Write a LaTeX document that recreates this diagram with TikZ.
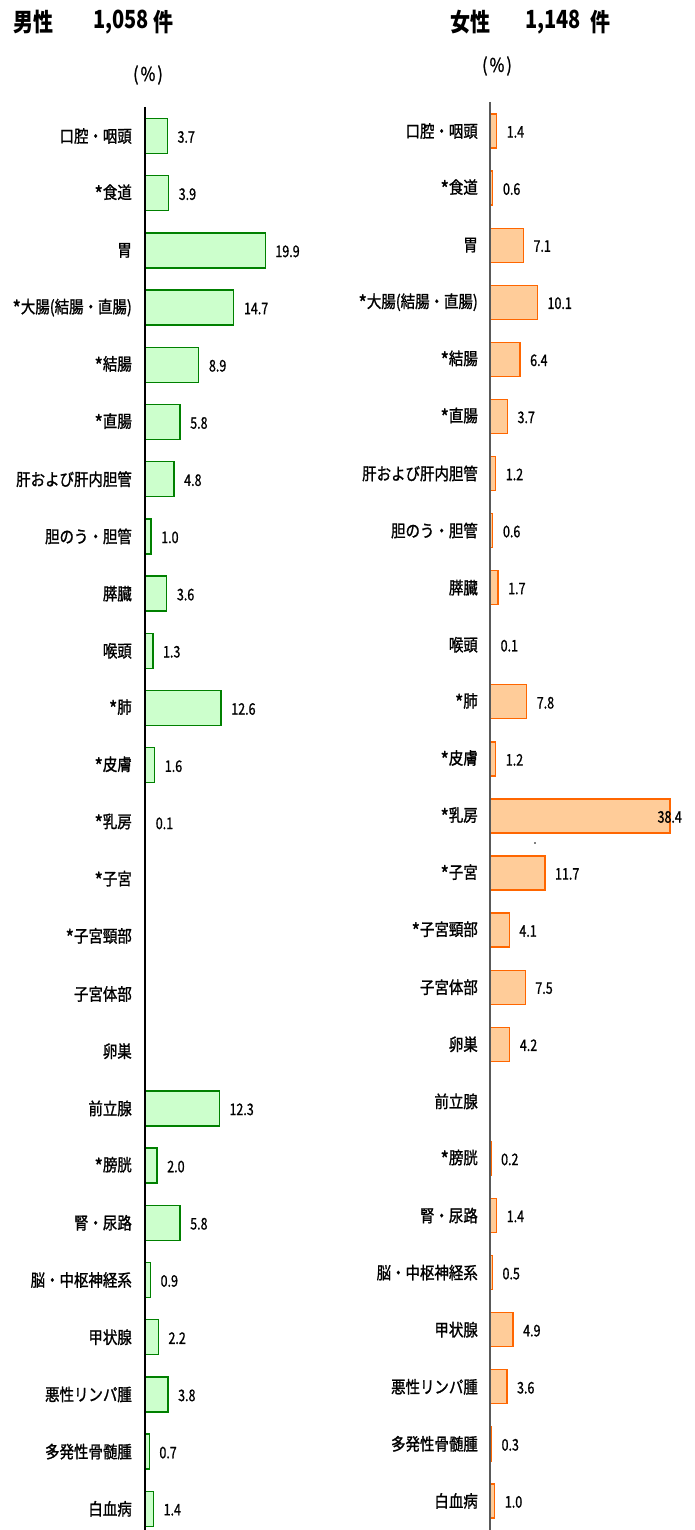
\documentclass[tikz,border=0pt]{standalone}
\usepackage{fontspec}
\newfontfamily\labf{Noto Sans CJK JP}[FakeStretch=0.85,FakeBold=1.2]
\newfontfamily\numf{Noto Sans CJK JP}[FakeStretch=0.78,FakeBold=1.0]
\newfontfamily\ttlf{Noto Sans CJK JP}[FakeStretch=0.8]
\newcommand\mystar{\raisebox{-0.35ex}{\fontsize{21}{21}\selectfont *}}
\definecolor{mgreen}{HTML}{008000}
\definecolor{mfill}{HTML}{CCFFCC}
\definecolor{forange}{HTML}{FF6600}
\definecolor{ffill}{HTML}{FFCC99}
\definecolor{faxis}{HTML}{595959}
\begin{document}
\begin{tikzpicture}[x=1pt,y=-1pt,
  lab/.style={anchor=east,inner sep=0pt,font=\labf\fontsize{17}{17}\selectfont},
  val/.style={anchor=west,inner sep=0pt,font=\numf\fontsize{16}{16}\selectfont},
  ttl/.style={anchor=west,inner sep=0pt,font=\ttlf\bfseries\fontsize{25}{25}\selectfont},
  pct/.style={inner sep=0pt,font=\labf\fontsize{19}{19}\selectfont},
  mbar/.style={draw=mgreen,fill=mfill,line width=1.3pt},
  fbar/.style={draw=forange,fill=ffill,line width=1.3pt},
  maxis/.style={draw=black,line width=1.2pt},
  faxis/.style={draw=faxis,line width=1.5pt}]
\useasboundingbox (0,0) rectangle (695,1530);
% titles
\node[ttl] (mt1) at (13,22) {男性};
\node[ttl] (mt2) at (93,22) {1,058};
\node[ttl] (mt3) at (153,22) {件};
\node[ttl] (ft1) at (450,22) {女性};
\node[ttl] (ft2) at (525,22) {1,148};
\node[ttl] (ft3) at (590,22) {件};
\node[pct] (mp) at (148,75) {(\kern2pt\%\kern2pt)};
\node[pct] (fp) at (497,66) {(\kern2pt\%\kern2pt)};
% axes
\coordinate (mtop) at (145,107);
\coordinate (mbot) at (145,1530);
\coordinate (ftop) at (490,102);
\coordinate (fbot) at (490,1530);
% labels
\foreach \t [count=\i from 0] in {口腔・咽頭,\mystar 食道,胃,\mystar 大腸(結腸・直腸),\mystar 結腸,\mystar 直腸,肝および肝内胆管,胆のう・胆管,膵臓,喉頭,\mystar 肺,\mystar 皮膚,\mystar 乳房,\mystar 子宮,\mystar 子宮頸部,子宮体部,卵巣,前立腺,\mystar 膀胱,腎・尿路,脳・中枢神経系,甲状腺,悪性リンパ腫,多発性骨髄腫,白血病}{
  \node[lab] (ml\i) at (132,136+57.2*\i) {\t};
  \node[lab] (fl\i) at (478,131+57.08*\i) {\t};
}
% male bars
\foreach \i/\v in {0/3.7,1/3.9,2/19.9,3/14.7,4/8.9,5/5.8,6/4.8,7/1.0,8/3.6,9/1.3,10/12.6,11/1.6,12/0.1,17/12.3,18/2.0,19/5.8,20/0.9,21/2.2,22/3.8,23/0.7,24/1.4}{
  \draw[mbar] (145,136+57.2*\i-17.5) rectangle (145+6.04*\v,136+57.2*\i+17.5);
  \node[val] (mv\i) at (145+6.04*\v+10,137+57.2*\i) {\v};
}
% female bars
\foreach \i/\v in {0/1.4,1/0.6,2/7.1,3/10.1,4/6.4,5/3.7,6/1.2,7/0.6,8/1.7,9/0.1,10/7.8,11/1.2,13/11.7,14/4.1,15/7.5,16/4.2,18/0.2,19/1.4,20/0.5,21/4.9,22/3.6,23/0.3,24/1.0}{
  \draw[fbar] (490,131+57.08*\i-17) rectangle (490+4.69*\v,131+57.08*\i+17);
  \node[val] (fv\i) at (490+4.69*\v+10,132+57.08*\i) {\v};
}
\draw[fbar] (490,131+57.08*12-17) rectangle (490+4.69*38.4,131+57.08*12+17);
\node[val,anchor=east] (fv12) at (682,132+57.08*12) {38.4};
\fill (535,843) circle (0.8);
\draw[maxis] (mtop) -- (mbot);
\draw[faxis] (ftop) -- (fbot);
\end{tikzpicture}
\end{document}
